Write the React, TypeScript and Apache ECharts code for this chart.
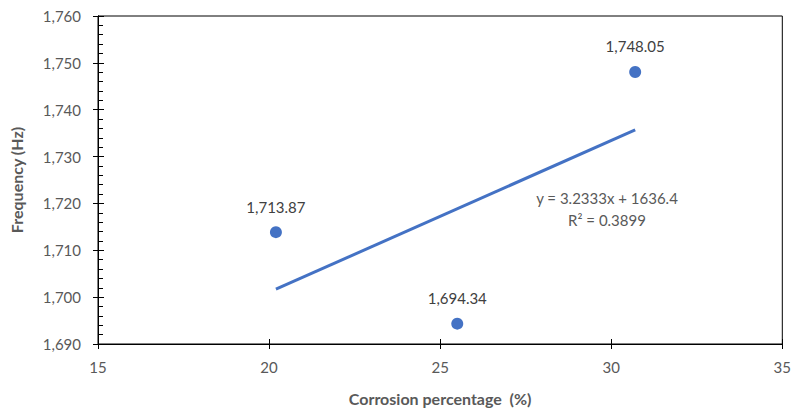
import React, { useEffect, useRef } from "react";
import * as echarts from "echarts";

const corrosion = [20.2, 25.5, 30.7];
const frequency = [1713.87, 1694.34, 1748.05];
const trendX = [20.2, 30.7];
const trendY = [1701.7, 1735.7];
const equationLines = ["y = 3.2333x + 1636.4", "R² = 0.3899"];

const FONT = "Lato, 'Open Sans', sans-serif";
const BLUE = "#4472C4";

export default function App() {
  const ref = useRef<HTMLDivElement>(null);
  useEffect(() => {
    if (!ref.current) return;
    const chart = echarts.init(ref.current, undefined, { renderer: "svg" });
    const fmt = (v: number) => v.toLocaleString("en-US");
    const baseY = {
      type: "value" as const,
      min: 1690,
      max: 1760,
      interval: 10,
      splitLine: { show: false },
      axisLine: { show: true, lineStyle: { color: "#000", width: 1 } },
    };
    const baseX = {
      type: "value" as const,
      min: 15,
      max: 35,
      interval: 5,
      splitLine: { show: false },
      axisLine: { show: true, lineStyle: { color: "#000", width: 1 } },
    };
    chart.setOption({
      animation: false,
      backgroundColor: "#fff",
      grid: {
        left: 97,
        right: 10,
        top: 16,
        bottom: 68,
        show: true,
        borderColor: "#000",
        borderWidth: 1,
      },
      xAxis: [
        {
          ...baseX,
          name: "Corrosion percentage  (%)",
          nameLocation: "middle",
          nameGap: 46,
          nameTextStyle: { fontFamily: FONT, fontSize: 16, fontWeight: "bold", color: "#595959" },
          axisTick: { show: true, length: 5, lineStyle: { color: "#000" } },
          axisLabel: { fontFamily: FONT, fontSize: 15, color: "#595959", margin: 15 },
        },
        {
          ...baseX,
          position: "bottom",
          axisTick: { show: true, inside: true, length: 5, lineStyle: { color: "#000" } },
          axisLabel: { show: false },
        },
      ],
      yAxis: [
        {
          ...baseY,
          name: "Frequency (Hz)",
          nameLocation: "middle",
          nameGap: 74,
          nameTextStyle: { fontFamily: FONT, fontSize: 16, fontWeight: "bold", color: "#595959" },
          axisTick: { show: true, length: 5, lineStyle: { color: "#000" } },
          axisLabel: { fontFamily: FONT, fontSize: 15, color: "#595959", margin: 17, formatter: fmt },
        },
        {
          ...baseY,
          position: "left",
          axisTick: { show: true, inside: true, length: 6, lineStyle: { color: "#000" } },
          minorTick: { show: true, splitNumber: 5, length: 5, lineStyle: { color: "#000" } },
          axisLabel: { show: false },
        },
      ],
      series: [
        {
          type: "line",
          data: trendX.map((x, i) => [x, trendY[i]]),
          showSymbol: false,
          symbol: "none",
          lineStyle: { color: BLUE, width: 3 },
          silent: true,
          z: 2,
        },
        {
          type: "scatter",
          data: corrosion.map((x, i) => [x, frequency[i]]),
          symbolSize: 12,
          itemStyle: { color: BLUE, opacity: 1 },
          label: {
            show: true,
            position: "top",
            distance: 12,
            fontFamily: FONT,
            fontSize: 15,
            color: "#404040",
            formatter: (p: any) =>
              p.value[1].toLocaleString("en-US", { minimumFractionDigits: 2, maximumFractionDigits: 2 }),
          },
          z: 3,
        },
      ],
      graphic: [
        {
          type: "text",
          x: 607,
          y: 209,
          style: {
            text: equationLines.join("\n"),
            fill: "#595959",
            font: `15px ${FONT}`,
            align: "center",
            verticalAlign: "middle",
            lineHeight: 22,
          },
        },
      ],
    });
    return () => chart.dispose();
  }, []);
  return <div ref={ref} style={{ width: 794, height: 412, position: "absolute", left: 0, top: 0 }} />;
}
